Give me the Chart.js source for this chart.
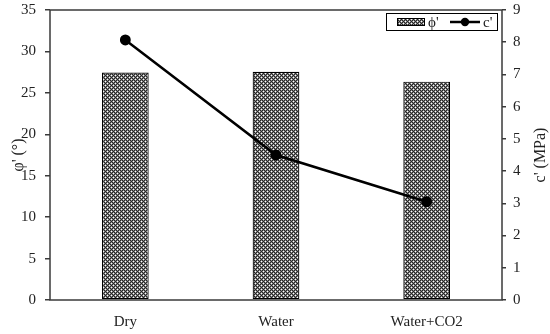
<!DOCTYPE html>
<html>
<head>
<meta charset="utf-8">
<script src="https://cdn.jsdelivr.net/npm/chart.js@4"></script>
<style>
  html, body { margin: 0; padding: 0; background: #fff; }
  #wrap { width: 550px; height: 334px; }
</style>
</head>
<body>
<div id="wrap"><canvas id="myChart" width="550" height="334"></canvas></div>

<script>
const categories = ['Dry', 'Water', 'Water+CO2'];
const phiValues = [27.45, 27.55, 26.35];
const cValues = [8.07, 4.5, 3.05];
const phiTicks = [0, 5, 10, 15, 20, 25, 30, 35];
const cTicks = [0, 1, 2, 3, 4, 5, 6, 7, 8, 9];

const FONT = 'Liberation Serif';
const AXIS = '#3a3a3a';

// hatch-like fill for the bars
function makePattern() {
  const c = document.createElement('canvas');
  c.width = 4; c.height = 4;
  const g = c.getContext('2d');
  const rows = ['DLDL', 'LWLD', 'DLDL', 'LDLW'];
  const col = { D: '#262626', L: '#858585', W: '#ffffff' };
  rows.forEach((r, y) => {
    for (let x = 0; x < 4; x++) { g.fillStyle = col[r[x]]; g.fillRect(x, y, 1, 1); }
  });
  return g.createPattern(c, 'repeat');
}
const pattern = makePattern();

const data = {
  labels: categories,
  datasets: [
    {
      type: 'bar',
      label: "\u03D5'",
      data: phiValues,
      yAxisID: 'y',
      backgroundColor: pattern,
      borderColor: '#000',
      borderWidth: 1.2,
      borderSkipped: false,
      barPercentage: 0.31,
      categoryPercentage: 1,
      order: 2
    },
    {
      type: 'line',
      label: "c'",
      data: cValues,
      yAxisID: 'y1',
      borderColor: '#000',
      backgroundColor: '#000',
      borderWidth: 2.5,
      pointRadius: 4.2,
      pointHoverRadius: 4.2,
      tension: 0,
      order: 1
    }
  ]
};

// frame around the plot, legend box, and axis titles
const extras = {
  id: 'extras',
  afterDraw(chart) {
    const ctx = chart.ctx;
    const a = chart.chartArea;
    ctx.save();
    ctx.strokeStyle = AXIS;
    ctx.lineWidth = 1.5;
    ctx.strokeRect(a.left, a.top, a.right - a.left, a.bottom - a.top);

    // legend
    const lx = a.right - 116, ly = a.top + 3, lw = 112, lh = 18;
    ctx.fillStyle = '#fff';
    ctx.fillRect(lx, ly, lw, lh);
    ctx.strokeStyle = '#000';
    ctx.lineWidth = 1;
    ctx.strokeRect(lx + 0.5, ly + 0.5, lw - 1, lh - 1);
    const cy = ly + lh / 2;
    ctx.fillStyle = pattern;
    ctx.fillRect(lx + 11, cy - 3.5, 28, 7);
    ctx.strokeRect(lx + 11.5, cy - 3.5, 27, 7);
    ctx.strokeStyle = '#000';
    ctx.lineWidth = 2.5;
    ctx.beginPath(); ctx.moveTo(lx + 64, cy); ctx.lineTo(lx + 94, cy); ctx.stroke();
    ctx.fillStyle = '#000';
    ctx.beginPath(); ctx.arc(lx + 79, cy, 4.2, 0, Math.PI * 2); ctx.fill();

    ctx.fillStyle = '#222';
    ctx.font = '15px "' + FONT + '"';
    ctx.textAlign = 'left';
    ctx.textBaseline = 'middle';
    ctx.fillText(data.datasets[0].label, lx + 42, cy + 1);
    ctx.fillText(data.datasets[1].label, lx + 97, cy + 1);

    ctx.textAlign = 'center';
    ctx.font = '16px "' + FONT + '"';
    const midY = (a.top + a.bottom) / 2;
    ctx.translate(19, midY);
    ctx.rotate(-Math.PI / 2);
    ctx.fillText("\u03C6' (\u00B0)", 0, 0);
    ctx.setTransform(1, 0, 0, 1, 0, 0);
    ctx.translate(541, midY);
    ctx.rotate(-Math.PI / 2);
    ctx.fillText("c' (MPa)", 0, 0);
    ctx.restore();
  }
};

function fixVertical(w) {
  return function (s) {
    s.width = w;
    s.paddingTop = 0;
    s.paddingBottom = 0;
  };
}

const config = {
  data: data,
  options: {
    responsive: false,
    animation: false,
    events: [],
    layout: { padding: { top: 10 } },
    plugins: {
      tooltip: { enabled: false },
      legend: { display: false }
    },
    scales: {
      x: {
        grid: { display: false, drawTicks: false },
        border: { display: false },
        ticks: { color: '#222', padding: 13, font: { family: FONT, size: 15 } },
        afterFit(s) { s.height = 34; s.paddingLeft = 0; s.paddingRight = 0; }
      },
      y: {
        position: 'left',
        min: 0, max: 35,
        afterBuildTicks(s) { s.ticks = phiTicks.map(v => ({ value: v })); },
        grid: { drawOnChartArea: false, color: AXIS, tickLength: 5, lineWidth: 1.5 },
        border: { display: false },
        ticks: { color: '#222', padding: 9, font: { family: FONT, size: 15 } },
        afterFit: fixVertical(50)
      },
      y1: {
        position: 'right',
        min: 0, max: 9,
        afterBuildTicks(s) { s.ticks = cTicks.map(v => ({ value: v })); },
        grid: { drawOnChartArea: false, color: AXIS, tickLength: 4, lineWidth: 1.5 },
        border: { display: false },
        ticks: { color: '#222', padding: 7, font: { family: FONT, size: 15 } },
        afterFit: fixVertical(48)
      }
    }
  },
  plugins: [extras]
};

const myChart = new Chart(document.getElementById('myChart'), config);
</script>
</body>
</html>
